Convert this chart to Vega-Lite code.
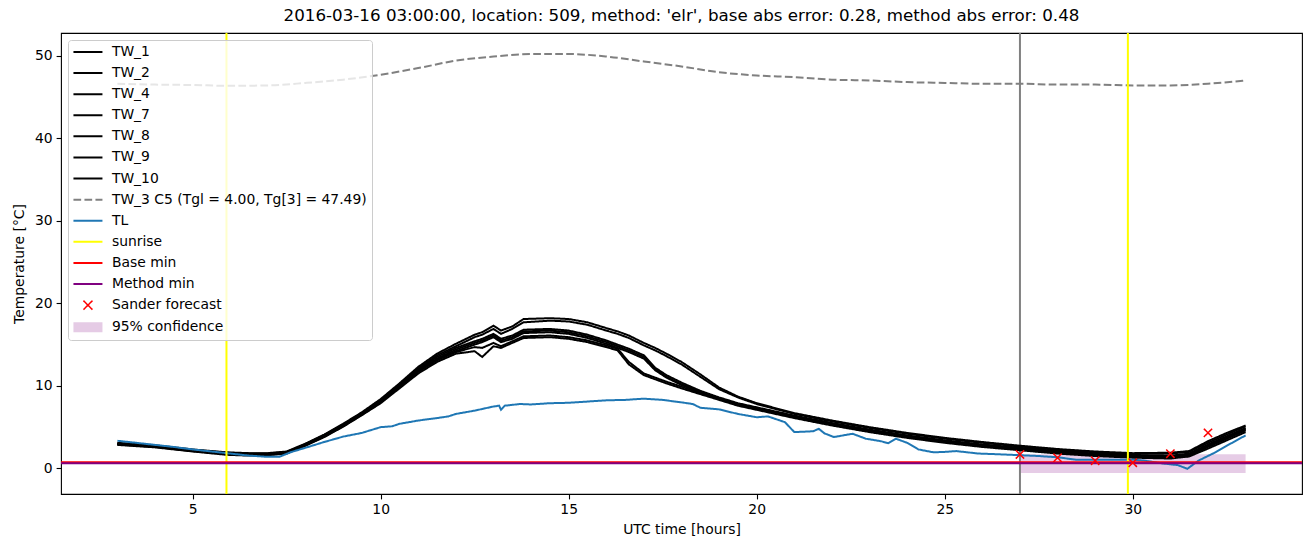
{
 "$schema": "https://vega.github.io/schema/vega-lite/v6.json",
 "width": 1241,
 "height": 461,
 "autosize": {"type": "none"},
 "padding": {"left": 61, "top": 33, "right": 8, "bottom": 53},
 "background": "white",
 "title": {"text": "2016-03-16 03:00:00, location: 509, method: 'elr', base abs error: 0.28, method abs error: 0.48", "fontSize": 16.7, "fontWeight": "normal", "font": "DejaVu Sans", "color": "#000000", "offset": 7, "anchor": "middle"},
 "config": {
  "font": "DejaVu Sans",
  "view": {"stroke": "#000000", "strokeWidth": 1.1},
  "axis": {"domain": false, "grid": false, "tickColor": "#000000", "tickSize": 4.9, "tickWidth": 1.1, "labelFontSize": 13.9, "labelColor": "#000000", "labelFont": "DejaVu Sans", "labelPadding": 4, "titleFont": "DejaVu Sans", "titleFontSize": 13.9, "titleFontWeight": "normal", "titleColor": "#000000"},
  "legend": {"orient": "top-left", "offset": 7, "padding": 5, "fillColor": "rgba(255,255,255,0.8)", "strokeColor": "#cccccc", "cornerRadius": 3, "symbolSize": 100, "symbolOffset": 8, "labelFontSize": 13.9, "labelFont": "DejaVu Sans", "labelColor": "#000000", "labelOffset": 17, "rowPadding": 6.1, "labelLimit": 500}
 },
 "datasets": {
  "tw": [
   {"series":"TW_1","t":3,"v":3.1},{"series":"TW_1","t":4,"v":2.8},{"series":"TW_1","t":5,"v":2.3},{"series":"TW_1","t":5.9,"v":1.95},{"series":"TW_1","t":6.5,"v":1.85},{"series":"TW_1","t":7,"v":1.85},{"series":"TW_1","t":7.5,"v":2.05},{"series":"TW_1","t":8,"v":3.0},{"series":"TW_1","t":8.5,"v":4.1},{"series":"TW_1","t":9,"v":5.4},{"series":"TW_1","t":9.5,"v":6.8},{"series":"TW_1","t":10,"v":8.4},{"series":"TW_1","t":10.5,"v":10.3},{"series":"TW_1","t":11,"v":12.3},{"series":"TW_1","t":11.5,"v":13.9},{"series":"TW_1","t":12,"v":15.1},{"series":"TW_1","t":12.5,"v":16.2},{"series":"TW_1","t":12.7,"v":16.5},{"series":"TW_1","t":13,"v":17.3},{"series":"TW_1","t":13.2,"v":16.7},{"series":"TW_1","t":13.5,"v":17.2},{"series":"TW_1","t":13.8,"v":18.1},{"series":"TW_1","t":14.5,"v":18.2},{"series":"TW_1","t":15,"v":18.1},{"series":"TW_1","t":15.5,"v":17.7},{"series":"TW_1","t":16,"v":17.0},{"series":"TW_1","t":16.3,"v":16.6},{"series":"TW_1","t":16.6,"v":16.1},{"series":"TW_1","t":17,"v":15.2},{"series":"TW_1","t":17.3,"v":14.6},{"series":"TW_1","t":17.6,"v":13.9},{"series":"TW_1","t":18,"v":12.9},{"series":"TW_1","t":18.5,"v":11.4},{"series":"TW_1","t":19,"v":9.8},{"series":"TW_1","t":19.5,"v":8.7},{"series":"TW_1","t":20,"v":7.9},{"series":"TW_1","t":20.5,"v":7.3},{"series":"TW_1","t":21,"v":6.7},{"series":"TW_1","t":22,"v":5.8},{"series":"TW_1","t":23,"v":5.0},{"series":"TW_1","t":24,"v":4.3},{"series":"TW_1","t":25,"v":3.7},{"series":"TW_1","t":26,"v":3.2},{"series":"TW_1","t":27,"v":2.75},{"series":"TW_1","t":28,"v":2.35},{"series":"TW_1","t":29,"v":2.05},{"series":"TW_1","t":30,"v":1.85},{"series":"TW_1","t":31,"v":1.9},{"series":"TW_1","t":31.5,"v":2.1},{"series":"TW_1","t":32,"v":3.3},{"series":"TW_1","t":32.5,"v":4.3},{"series":"TW_1","t":33,"v":5.2},
   {"series":"TW_2","t":3,"v":3.05},{"series":"TW_2","t":4,"v":2.75},{"series":"TW_2","t":5,"v":2.25},{"series":"TW_2","t":5.9,"v":1.9},{"series":"TW_2","t":6.5,"v":1.8},{"series":"TW_2","t":7,"v":1.8},{"series":"TW_2","t":7.5,"v":2.0},{"series":"TW_2","t":8,"v":2.95},{"series":"TW_2","t":8.5,"v":4.05},{"series":"TW_2","t":9,"v":5.3},{"series":"TW_2","t":9.5,"v":6.7},{"series":"TW_2","t":10,"v":8.3},{"series":"TW_2","t":10.5,"v":10.2},{"series":"TW_2","t":11,"v":12.1},{"series":"TW_2","t":11.5,"v":13.7},{"series":"TW_2","t":12,"v":14.8},{"series":"TW_2","t":12.5,"v":15.9},{"series":"TW_2","t":12.7,"v":16.2},{"series":"TW_2","t":13,"v":16.9},{"series":"TW_2","t":13.2,"v":16.3},{"series":"TW_2","t":13.5,"v":16.9},{"series":"TW_2","t":13.8,"v":17.7},{"series":"TW_2","t":14.5,"v":17.9},{"series":"TW_2","t":15,"v":17.8},{"series":"TW_2","t":15.5,"v":17.4},{"series":"TW_2","t":16,"v":16.7},{"series":"TW_2","t":16.3,"v":16.3},{"series":"TW_2","t":16.6,"v":15.8},{"series":"TW_2","t":17,"v":14.9},{"series":"TW_2","t":17.3,"v":14.3},{"series":"TW_2","t":17.6,"v":13.6},{"series":"TW_2","t":18,"v":12.6},{"series":"TW_2","t":18.5,"v":11.1},{"series":"TW_2","t":19,"v":9.6},{"series":"TW_2","t":19.5,"v":8.6},{"series":"TW_2","t":20,"v":7.8},{"series":"TW_2","t":20.5,"v":7.2},{"series":"TW_2","t":21,"v":6.6},{"series":"TW_2","t":22,"v":5.7},{"series":"TW_2","t":23,"v":4.9},{"series":"TW_2","t":24,"v":4.2},{"series":"TW_2","t":25,"v":3.6},{"series":"TW_2","t":26,"v":3.1},{"series":"TW_2","t":27,"v":2.65},{"series":"TW_2","t":28,"v":2.25},{"series":"TW_2","t":29,"v":1.95},{"series":"TW_2","t":30,"v":1.75},{"series":"TW_2","t":31,"v":1.8},{"series":"TW_2","t":31.5,"v":2.0},{"series":"TW_2","t":32,"v":3.1},{"series":"TW_2","t":32.5,"v":4.1},{"series":"TW_2","t":33,"v":5.1},
   {"series":"TW_4","t":3,"v":3.0},{"series":"TW_4","t":4,"v":2.7},{"series":"TW_4","t":5,"v":2.2},{"series":"TW_4","t":5.9,"v":1.85},{"series":"TW_4","t":6.5,"v":1.75},{"series":"TW_4","t":7,"v":1.75},{"series":"TW_4","t":7.5,"v":1.95},{"series":"TW_4","t":8,"v":2.9},{"series":"TW_4","t":8.5,"v":4.0},{"series":"TW_4","t":9,"v":5.3},{"series":"TW_4","t":9.5,"v":6.7},{"series":"TW_4","t":10,"v":8.2},{"series":"TW_4","t":10.5,"v":10.1},{"series":"TW_4","t":11,"v":12.0},{"series":"TW_4","t":11.5,"v":13.5},{"series":"TW_4","t":12,"v":14.6},{"series":"TW_4","t":12.5,"v":15.4},{"series":"TW_4","t":12.7,"v":15.7},{"series":"TW_4","t":13,"v":16.3},{"series":"TW_4","t":13.2,"v":15.7},{"series":"TW_4","t":13.5,"v":16.1},{"series":"TW_4","t":13.8,"v":16.8},{"series":"TW_4","t":14.5,"v":16.9},{"series":"TW_4","t":15,"v":16.7},{"series":"TW_4","t":15.5,"v":16.2},{"series":"TW_4","t":16,"v":15.5},{"series":"TW_4","t":16.3,"v":15.0},{"series":"TW_4","t":16.6,"v":14.5},{"series":"TW_4","t":17,"v":13.7},{"series":"TW_4","t":17.3,"v":12.2},{"series":"TW_4","t":17.6,"v":11.3},{"series":"TW_4","t":18,"v":10.4},{"series":"TW_4","t":18.5,"v":9.4},{"series":"TW_4","t":19,"v":8.6},{"series":"TW_4","t":19.5,"v":7.9},{"series":"TW_4","t":20,"v":7.4},{"series":"TW_4","t":20.5,"v":6.9},{"series":"TW_4","t":21,"v":6.4},{"series":"TW_4","t":22,"v":5.5},{"series":"TW_4","t":23,"v":4.7},{"series":"TW_4","t":24,"v":4.0},{"series":"TW_4","t":25,"v":3.4},{"series":"TW_4","t":26,"v":2.9},{"series":"TW_4","t":27,"v":2.5},{"series":"TW_4","t":28,"v":2.1},{"series":"TW_4","t":29,"v":1.8},{"series":"TW_4","t":30,"v":1.6},{"series":"TW_4","t":31,"v":1.55},{"series":"TW_4","t":31.5,"v":1.8},{"series":"TW_4","t":32,"v":2.9},{"series":"TW_4","t":32.5,"v":3.9},{"series":"TW_4","t":33,"v":4.9},
   {"series":"TW_7","t":3,"v":2.95},{"series":"TW_7","t":4,"v":2.65},{"series":"TW_7","t":5,"v":2.15},{"series":"TW_7","t":5.9,"v":1.8},{"series":"TW_7","t":6.5,"v":1.7},{"series":"TW_7","t":7,"v":1.7},{"series":"TW_7","t":7.5,"v":1.9},{"series":"TW_7","t":8,"v":2.85},{"series":"TW_7","t":8.5,"v":3.9},{"series":"TW_7","t":9,"v":5.2},{"series":"TW_7","t":9.5,"v":6.6},{"series":"TW_7","t":10,"v":8.1},{"series":"TW_7","t":10.5,"v":10.0},{"series":"TW_7","t":11,"v":11.9},{"series":"TW_7","t":11.5,"v":13.3},{"series":"TW_7","t":12,"v":14.4},{"series":"TW_7","t":12.5,"v":15.2},{"series":"TW_7","t":12.7,"v":15.5},{"series":"TW_7","t":13,"v":16.1},{"series":"TW_7","t":13.2,"v":15.5},{"series":"TW_7","t":13.5,"v":15.9},{"series":"TW_7","t":13.8,"v":16.6},{"series":"TW_7","t":14.5,"v":16.7},{"series":"TW_7","t":15,"v":16.5},{"series":"TW_7","t":15.5,"v":16.0},{"series":"TW_7","t":16,"v":15.3},{"series":"TW_7","t":16.3,"v":14.8},{"series":"TW_7","t":16.6,"v":14.3},{"series":"TW_7","t":17,"v":13.5},{"series":"TW_7","t":17.3,"v":12.0},{"series":"TW_7","t":17.6,"v":11.1},{"series":"TW_7","t":18,"v":10.2},{"series":"TW_7","t":18.5,"v":9.3},{"series":"TW_7","t":19,"v":8.5},{"series":"TW_7","t":19.5,"v":7.8},{"series":"TW_7","t":20,"v":7.3},{"series":"TW_7","t":20.5,"v":6.8},{"series":"TW_7","t":21,"v":6.3},{"series":"TW_7","t":22,"v":5.4},{"series":"TW_7","t":23,"v":4.6},{"series":"TW_7","t":24,"v":3.9},{"series":"TW_7","t":25,"v":3.3},{"series":"TW_7","t":26,"v":2.8},{"series":"TW_7","t":27,"v":2.4},{"series":"TW_7","t":28,"v":2.0},{"series":"TW_7","t":29,"v":1.7},{"series":"TW_7","t":30,"v":1.5},{"series":"TW_7","t":31,"v":1.45},{"series":"TW_7","t":31.5,"v":1.7},{"series":"TW_7","t":32,"v":2.8},{"series":"TW_7","t":32.5,"v":3.8},{"series":"TW_7","t":33,"v":4.8},
   {"series":"TW_8","t":3,"v":2.9},{"series":"TW_8","t":4,"v":2.6},{"series":"TW_8","t":5,"v":2.1},{"series":"TW_8","t":5.9,"v":1.75},{"series":"TW_8","t":6.5,"v":1.65},{"series":"TW_8","t":7,"v":1.65},{"series":"TW_8","t":7.5,"v":1.85},{"series":"TW_8","t":8,"v":2.8},{"series":"TW_8","t":8.5,"v":3.85},{"series":"TW_8","t":9,"v":5.1},{"series":"TW_8","t":9.5,"v":6.5},{"series":"TW_8","t":10,"v":8.0},{"series":"TW_8","t":10.5,"v":9.9},{"series":"TW_8","t":11,"v":11.8},{"series":"TW_8","t":11.5,"v":13.2},{"series":"TW_8","t":12,"v":14.2},{"series":"TW_8","t":12.5,"v":15.0},{"series":"TW_8","t":12.7,"v":15.3},{"series":"TW_8","t":13,"v":15.9},{"series":"TW_8","t":13.2,"v":15.3},{"series":"TW_8","t":13.5,"v":15.7},{"series":"TW_8","t":13.8,"v":16.4},{"series":"TW_8","t":14.5,"v":16.5},{"series":"TW_8","t":15,"v":16.3},{"series":"TW_8","t":15.5,"v":15.8},{"series":"TW_8","t":16,"v":15.1},{"series":"TW_8","t":16.3,"v":14.6},{"series":"TW_8","t":16.6,"v":14.1},{"series":"TW_8","t":17,"v":13.3},{"series":"TW_8","t":17.3,"v":11.9},{"series":"TW_8","t":17.6,"v":11.0},{"series":"TW_8","t":18,"v":10.1},{"series":"TW_8","t":18.5,"v":9.2},{"series":"TW_8","t":19,"v":8.4},{"series":"TW_8","t":19.5,"v":7.7},{"series":"TW_8","t":20,"v":7.2},{"series":"TW_8","t":20.5,"v":6.7},{"series":"TW_8","t":21,"v":6.2},{"series":"TW_8","t":22,"v":5.3},{"series":"TW_8","t":23,"v":4.5},{"series":"TW_8","t":24,"v":3.8},{"series":"TW_8","t":25,"v":3.2},{"series":"TW_8","t":26,"v":2.7},{"series":"TW_8","t":27,"v":2.3},{"series":"TW_8","t":28,"v":1.9},{"series":"TW_8","t":29,"v":1.6},{"series":"TW_8","t":30,"v":1.4},{"series":"TW_8","t":31,"v":1.35},{"series":"TW_8","t":31.5,"v":1.6},{"series":"TW_8","t":32,"v":2.7},{"series":"TW_8","t":32.5,"v":3.7},{"series":"TW_8","t":33,"v":4.7},
   {"series":"TW_9","t":3,"v":2.95},{"series":"TW_9","t":4,"v":2.65},{"series":"TW_9","t":5,"v":2.15},{"series":"TW_9","t":5.9,"v":1.75},{"series":"TW_9","t":6.5,"v":1.65},{"series":"TW_9","t":7,"v":1.7},{"series":"TW_9","t":7.5,"v":1.9},{"series":"TW_9","t":8,"v":2.85},{"series":"TW_9","t":8.5,"v":3.9},{"series":"TW_9","t":9,"v":5.15},{"series":"TW_9","t":9.5,"v":6.55},{"series":"TW_9","t":10,"v":8.05},{"series":"TW_9","t":10.5,"v":9.9},{"series":"TW_9","t":11,"v":11.7},{"series":"TW_9","t":11.5,"v":13.1},{"series":"TW_9","t":12,"v":14.1},{"series":"TW_9","t":12.5,"v":14.7},{"series":"TW_9","t":12.7,"v":14.6},{"series":"TW_9","t":13,"v":15.2},{"series":"TW_9","t":13.2,"v":14.8},{"series":"TW_9","t":13.5,"v":15.4},{"series":"TW_9","t":13.8,"v":16.0},{"series":"TW_9","t":14.5,"v":16.1},{"series":"TW_9","t":15,"v":15.9},{"series":"TW_9","t":15.5,"v":15.5},{"series":"TW_9","t":16,"v":14.9},{"series":"TW_9","t":16.3,"v":14.5},{"series":"TW_9","t":16.6,"v":12.9},{"series":"TW_9","t":17,"v":11.5},{"series":"TW_9","t":17.3,"v":11.0},{"series":"TW_9","t":17.6,"v":10.5},{"series":"TW_9","t":18,"v":9.9},{"series":"TW_9","t":18.5,"v":9.1},{"series":"TW_9","t":19,"v":8.4},{"series":"TW_9","t":19.5,"v":7.7},{"series":"TW_9","t":20,"v":7.2},{"series":"TW_9","t":20.5,"v":6.7},{"series":"TW_9","t":21,"v":6.2},{"series":"TW_9","t":22,"v":5.3},{"series":"TW_9","t":23,"v":4.5},{"series":"TW_9","t":24,"v":3.8},{"series":"TW_9","t":25,"v":3.2},{"series":"TW_9","t":26,"v":2.7},{"series":"TW_9","t":27,"v":2.3},{"series":"TW_9","t":28,"v":1.9},{"series":"TW_9","t":29,"v":1.6},{"series":"TW_9","t":30,"v":1.4},{"series":"TW_9","t":31,"v":1.3},{"series":"TW_9","t":31.5,"v":1.5},{"series":"TW_9","t":32,"v":2.6},{"series":"TW_9","t":32.5,"v":3.6},{"series":"TW_9","t":33,"v":4.6},
   {"series":"TW_10","t":3,"v":2.85},{"series":"TW_10","t":4,"v":2.55},{"series":"TW_10","t":5,"v":2.05},{"series":"TW_10","t":5.9,"v":1.65},{"series":"TW_10","t":6.5,"v":1.55},{"series":"TW_10","t":7,"v":1.6},{"series":"TW_10","t":7.5,"v":1.8},{"series":"TW_10","t":8,"v":2.75},{"series":"TW_10","t":8.5,"v":3.8},{"series":"TW_10","t":9,"v":5.05},{"series":"TW_10","t":9.5,"v":6.45},{"series":"TW_10","t":10,"v":7.9},{"series":"TW_10","t":10.5,"v":9.7},{"series":"TW_10","t":11,"v":11.5},{"series":"TW_10","t":11.5,"v":12.9},{"series":"TW_10","t":12,"v":13.9},{"series":"TW_10","t":12.5,"v":14.2},{"series":"TW_10","t":12.7,"v":13.5},{"series":"TW_10","t":13,"v":14.8},{"series":"TW_10","t":13.2,"v":14.6},{"series":"TW_10","t":13.5,"v":15.2},{"series":"TW_10","t":13.8,"v":15.8},{"series":"TW_10","t":14.5,"v":15.9},{"series":"TW_10","t":15,"v":15.7},{"series":"TW_10","t":15.5,"v":15.3},{"series":"TW_10","t":16,"v":14.7},{"series":"TW_10","t":16.3,"v":14.3},{"series":"TW_10","t":16.6,"v":12.6},{"series":"TW_10","t":17,"v":11.3},{"series":"TW_10","t":17.3,"v":10.8},{"series":"TW_10","t":17.6,"v":10.3},{"series":"TW_10","t":18,"v":9.7},{"series":"TW_10","t":18.5,"v":9.0},{"series":"TW_10","t":19,"v":8.3},{"series":"TW_10","t":19.5,"v":7.6},{"series":"TW_10","t":20,"v":7.1},{"series":"TW_10","t":20.5,"v":6.6},{"series":"TW_10","t":21,"v":6.1},{"series":"TW_10","t":22,"v":5.2},{"series":"TW_10","t":23,"v":4.4},{"series":"TW_10","t":24,"v":3.7},{"series":"TW_10","t":25,"v":3.1},{"series":"TW_10","t":26,"v":2.6},{"series":"TW_10","t":27,"v":2.2},{"series":"TW_10","t":28,"v":1.8},{"series":"TW_10","t":29,"v":1.5},{"series":"TW_10","t":30,"v":1.3},{"series":"TW_10","t":31,"v":1.2},{"series":"TW_10","t":31.5,"v":1.45},{"series":"TW_10","t":32,"v":2.4},{"series":"TW_10","t":32.5,"v":3.4},{"series":"TW_10","t":33,"v":4.4}
  ],
  "tw3": [
   {"series":"TW_3 C5 (Tgl = 4.00, Tg[3] = 47.49)","t":3,"v":46.6},{"series":"TW_3 C5 (Tgl = 4.00, Tg[3] = 47.49)","t":4,"v":46.5},{"series":"TW_3 C5 (Tgl = 4.00, Tg[3] = 47.49)","t":5,"v":46.45},{"series":"TW_3 C5 (Tgl = 4.00, Tg[3] = 47.49)","t":6,"v":46.35},{"series":"TW_3 C5 (Tgl = 4.00, Tg[3] = 47.49)","t":7,"v":46.4},{"series":"TW_3 C5 (Tgl = 4.00, Tg[3] = 47.49)","t":8,"v":46.7},{"series":"TW_3 C5 (Tgl = 4.00, Tg[3] = 47.49)","t":9,"v":47.1},{"series":"TW_3 C5 (Tgl = 4.00, Tg[3] = 47.49)","t":10,"v":47.7},{"series":"TW_3 C5 (Tgl = 4.00, Tg[3] = 47.49)","t":11,"v":48.5},{"series":"TW_3 C5 (Tgl = 4.00, Tg[3] = 47.49)","t":12,"v":49.4},{"series":"TW_3 C5 (Tgl = 4.00, Tg[3] = 47.49)","t":13,"v":49.9},{"series":"TW_3 C5 (Tgl = 4.00, Tg[3] = 47.49)","t":14,"v":50.2},{"series":"TW_3 C5 (Tgl = 4.00, Tg[3] = 47.49)","t":15,"v":50.2},{"series":"TW_3 C5 (Tgl = 4.00, Tg[3] = 47.49)","t":16,"v":49.9},{"series":"TW_3 C5 (Tgl = 4.00, Tg[3] = 47.49)","t":17,"v":49.3},{"series":"TW_3 C5 (Tgl = 4.00, Tg[3] = 47.49)","t":18,"v":48.7},{"series":"TW_3 C5 (Tgl = 4.00, Tg[3] = 47.49)","t":19,"v":48.0},{"series":"TW_3 C5 (Tgl = 4.00, Tg[3] = 47.49)","t":20,"v":47.6},{"series":"TW_3 C5 (Tgl = 4.00, Tg[3] = 47.49)","t":21,"v":47.4},{"series":"TW_3 C5 (Tgl = 4.00, Tg[3] = 47.49)","t":22,"v":47.1},{"series":"TW_3 C5 (Tgl = 4.00, Tg[3] = 47.49)","t":23,"v":47.0},{"series":"TW_3 C5 (Tgl = 4.00, Tg[3] = 47.49)","t":24,"v":46.8},{"series":"TW_3 C5 (Tgl = 4.00, Tg[3] = 47.49)","t":25,"v":46.7},{"series":"TW_3 C5 (Tgl = 4.00, Tg[3] = 47.49)","t":26,"v":46.6},{"series":"TW_3 C5 (Tgl = 4.00, Tg[3] = 47.49)","t":27,"v":46.6},{"series":"TW_3 C5 (Tgl = 4.00, Tg[3] = 47.49)","t":28,"v":46.5},{"series":"TW_3 C5 (Tgl = 4.00, Tg[3] = 47.49)","t":29,"v":46.5},{"series":"TW_3 C5 (Tgl = 4.00, Tg[3] = 47.49)","t":30,"v":46.4},{"series":"TW_3 C5 (Tgl = 4.00, Tg[3] = 47.49)","t":31,"v":46.4},{"series":"TW_3 C5 (Tgl = 4.00, Tg[3] = 47.49)","t":32,"v":46.6},{"series":"TW_3 C5 (Tgl = 4.00, Tg[3] = 47.49)","t":33,"v":47.0}
  ],
  "tl": [
   {"series":"TL","t":3,"v":3.35},{"series":"TL","t":3.5,"v":3.1},{"series":"TL","t":4,"v":2.85},{"series":"TL","t":4.5,"v":2.6},{"series":"TL","t":5,"v":2.3},{"series":"TL","t":5.5,"v":2.05},{"series":"TL","t":6,"v":1.8},{"series":"TL","t":6.5,"v":1.55},{"series":"TL","t":7,"v":1.4},{"series":"TL","t":7.3,"v":1.4},{"series":"TL","t":7.6,"v":1.95},{"series":"TL","t":8,"v":2.5},{"series":"TL","t":8.5,"v":3.2},{"series":"TL","t":9,"v":3.85},{"series":"TL","t":9.5,"v":4.3},{"series":"TL","t":10,"v":5.0},{"series":"TL","t":10.3,"v":5.1},{"series":"TL","t":10.5,"v":5.4},{"series":"TL","t":11,"v":5.8},{"series":"TL","t":11.5,"v":6.1},{"series":"TL","t":11.8,"v":6.3},{"series":"TL","t":12,"v":6.6},{"series":"TL","t":12.5,"v":7.0},{"series":"TL","t":13,"v":7.5},{"series":"TL","t":13.15,"v":7.6},{"series":"TL","t":13.2,"v":7.1},{"series":"TL","t":13.3,"v":7.6},{"series":"TL","t":13.7,"v":7.8},{"series":"TL","t":14,"v":7.75},{"series":"TL","t":14.5,"v":7.9},{"series":"TL","t":15,"v":7.95},{"series":"TL","t":15.5,"v":8.1},{"series":"TL","t":16,"v":8.25},{"series":"TL","t":16.5,"v":8.3},{"series":"TL","t":17,"v":8.45},{"series":"TL","t":17.5,"v":8.3},{"series":"TL","t":18,"v":8.0},{"series":"TL","t":18.3,"v":7.8},{"series":"TL","t":18.5,"v":7.35},{"series":"TL","t":19,"v":7.15},{"series":"TL","t":19.5,"v":6.6},{"series":"TL","t":20,"v":6.2},{"series":"TL","t":20.3,"v":6.3},{"series":"TL","t":20.75,"v":5.6},{"series":"TL","t":21,"v":4.4},{"series":"TL","t":21.5,"v":4.5},{"series":"TL","t":21.65,"v":4.8},{"series":"TL","t":21.8,"v":4.25},{"series":"TL","t":22.05,"v":3.8},{"series":"TL","t":22.55,"v":4.2},{"series":"TL","t":22.9,"v":3.6},{"series":"TL","t":23.3,"v":3.3},{"series":"TL","t":23.5,"v":3.05},{"series":"TL","t":23.7,"v":3.6},{"series":"TL","t":24,"v":3.1},{"series":"TL","t":24.3,"v":2.3},{"series":"TL","t":24.7,"v":1.95},{"series":"TL","t":25,"v":2.0},{"series":"TL","t":25.3,"v":2.1},{"series":"TL","t":25.9,"v":1.8},{"series":"TL","t":26.5,"v":1.7},{"series":"TL","t":27,"v":1.6},{"series":"TL","t":27.5,"v":1.5},{"series":"TL","t":28,"v":1.35},{"series":"TL","t":28.5,"v":1.05},{"series":"TL","t":29,"v":1.05},{"series":"TL","t":29.5,"v":1.05},{"series":"TL","t":30,"v":1.05},{"series":"TL","t":30.3,"v":0.95},{"series":"TL","t":30.8,"v":0.6},{"series":"TL","t":31.2,"v":0.4},{"series":"TL","t":31.45,"v":-0.05},{"series":"TL","t":31.75,"v":0.95},{"series":"TL","t":32.2,"v":1.95},{"series":"TL","t":32.6,"v":3.0},{"series":"TL","t":33,"v":4.0}
  ],
  "sunrise": [{"series":"sunrise","t":5.9},{"series":"sunrise","t":29.87}],
  "now": [{"t":27}],
  "mins": [{"series":"Base min","v":0.76},{"series":"Method min","v":0.64}],
  "sander": [{"series":"Sander forecast","t":27,"v":1.69},{"series":"Sander forecast","t":28,"v":1.29},{"series":"Sander forecast","t":29,"v":0.93},{"series":"Sander forecast","t":30,"v":0.69},{"series":"Sander forecast","t":31,"v":1.78},{"series":"Sander forecast","t":32,"v":4.31}],
  "band": [{"series":"95% confidence","t":27,"t2":33,"v":-0.55,"v2":1.72}]
 },
 "layer": [
  {
   "data": {"name": "band"},
   "mark": {"type": "rect"},
   "encoding": {
    "x": {"field": "t", "type": "quantitative", "scale": {"domain": [1.5, 34.5], "nice": false, "zero": false}, "axis": {"title": "UTC time [hours]", "values": [5, 10, 15, 20, 25, 30], "titlePadding": 6}},
    "x2": {"field": "t2"},
    "y": {"field": "v", "type": "quantitative", "scale": {"domain": [-3.1, 52.75], "nice": false, "zero": false}, "axis": {"title": "Temperature [°C]", "values": [0, 10, 20, 30, 40, 50], "titlePadding": 8}},
    "y2": {"field": "v2"},
    "color": {
     "field": "series", "type": "nominal",
     "scale": {
      "domain": ["TW_1","TW_2","TW_4","TW_7","TW_8","TW_9","TW_10","TW_3 C5 (Tgl = 4.00, Tg[3] = 47.49)","TL","sunrise","Base min","Method min","Sander forecast","95% confidence"],
      "range": ["#000000","#000000","#000000","#000000","#000000","#000000","#000000","#808080","#1f77b4","#ffff00","#ff0000","#800080","#ff0000","#800080"]
     },
     "legend": {"title": null}
    },
    "opacity": {
     "field": "series", "type": "nominal",
     "scale": {
      "type": "ordinal",
      "domain": ["TW_1","TW_2","TW_4","TW_7","TW_8","TW_9","TW_10","TW_3 C5 (Tgl = 4.00, Tg[3] = 47.49)","TL","sunrise","Base min","Method min","Sander forecast","95% confidence"],
      "range": [1,1,1,1,1,1,1,1,1,1,1,1,1,0.2]
     },
     "legend": {"title": null}
    }
   }
  },
  {
   "data": {"name": "now"},
   "mark": {"type": "rule", "color": "#808080", "strokeWidth": 2},
   "encoding": {
    "x": {"field": "t", "type": "quantitative", "scale": {"domain": [1.5, 34.5], "nice": false, "zero": false}, "axis": {"title": "UTC time [hours]", "values": [5, 10, 15, 20, 25, 30], "titlePadding": 6}}
   }
  },
  {
   "encoding": {
    "color": {
     "field": "series", "type": "nominal",
     "scale": {
      "domain": ["TW_1","TW_2","TW_4","TW_7","TW_8","TW_9","TW_10","TW_3 C5 (Tgl = 4.00, Tg[3] = 47.49)","TL","sunrise","Base min","Method min","Sander forecast","95% confidence"],
      "range": ["#000000","#000000","#000000","#000000","#000000","#000000","#000000","#808080","#1f77b4","#ffff00","#ff0000","#800080","#ff0000","#800080"]
     },
     "legend": {"title": null}
    },
    "strokeDash": {
     "field": "series", "type": "nominal",
     "scale": {
      "type": "ordinal",
      "domain": ["TW_1","TW_2","TW_4","TW_7","TW_8","TW_9","TW_10","TW_3 C5 (Tgl = 4.00, Tg[3] = 47.49)","TL","sunrise","Base min","Method min","Sander forecast","95% confidence"],
      "range": [[1,0],[1,0],[1,0],[1,0],[1,0],[1,0],[1,0],[7.7,3.3],[1,0],[1,0],[1,0],[1,0],[1,0],[1,0]]
     },
     "legend": {"title": null}
    },
    "shape": {
     "field": "series", "type": "nominal",
     "scale": {
      "domain": ["TW_1","TW_2","TW_4","TW_7","TW_8","TW_9","TW_10","TW_3 C5 (Tgl = 4.00, Tg[3] = 47.49)","TL","sunrise","Base min","Method min","Sander forecast","95% confidence"],
      "range": ["M-2.9,0H2.9","M-2.9,0H2.9","M-2.9,0H2.9","M-2.9,0H2.9","M-2.9,0H2.9","M-2.9,0H2.9","M-2.9,0H2.9","M-2.9,0H2.9","M-2.9,0H2.9","M-2.9,0H2.9","M-2.9,0H2.9","M-2.9,0H2.9","M-0.9,-0.9L0.9,0.9M-0.9,0.9L0.9,-0.9","M-2.9,-1H2.9V1H-2.9Z"]
     },
     "legend": {"title": null}
    },
    "strokeWidth": {
     "field": "series", "type": "nominal",
     "scale": {
      "type": "ordinal",
      "domain": ["TW_1","TW_2","TW_4","TW_7","TW_8","TW_9","TW_10","TW_3 C5 (Tgl = 4.00, Tg[3] = 47.49)","TL","sunrise","Base min","Method min","Sander forecast","95% confidence"],
      "range": [2,2,2,2,2,2,2,2,2,2,2,2,1.5,0.01]
     },
     "legend": {"title": null}
    },
    "opacity": {
     "field": "series", "type": "nominal",
     "scale": {
      "type": "ordinal",
      "domain": ["TW_1","TW_2","TW_4","TW_7","TW_8","TW_9","TW_10","TW_3 C5 (Tgl = 4.00, Tg[3] = 47.49)","TL","sunrise","Base min","Method min","Sander forecast","95% confidence"],
      "range": [1,1,1,1,1,1,1,1,1,1,1,1,1,0.2]
     },
     "legend": {"title": null}
    }
   },
   "layer": [
    {
     "data": {"name": "tw"},
     "mark": {"type": "line"},
     "encoding": {
      "x": {"field": "t", "type": "quantitative", "scale": {"domain": [1.5, 34.5], "nice": false, "zero": false}, "axis": {"title": "UTC time [hours]", "values": [5, 10, 15, 20, 25, 30], "titlePadding": 6}},
      "y": {"field": "v", "type": "quantitative", "scale": {"domain": [-3.1, 52.75], "nice": false, "zero": false}, "axis": {"title": "Temperature [°C]", "values": [0, 10, 20, 30, 40, 50], "titlePadding": 8}}
     }
    },
    {
     "data": {"name": "tw3"},
     "mark": {"type": "line", "interpolate": "monotone"},
     "encoding": {
      "x": {"field": "t", "type": "quantitative", "scale": {"domain": [1.5, 34.5], "nice": false, "zero": false}, "axis": {"title": "UTC time [hours]", "values": [5, 10, 15, 20, 25, 30], "titlePadding": 6}},
      "y": {"field": "v", "type": "quantitative", "scale": {"domain": [-3.1, 52.75], "nice": false, "zero": false}, "axis": {"title": "Temperature [°C]", "values": [0, 10, 20, 30, 40, 50], "titlePadding": 8}}
     }
    },
    {
     "data": {"name": "tl"},
     "mark": {"type": "line"},
     "encoding": {
      "x": {"field": "t", "type": "quantitative", "scale": {"domain": [1.5, 34.5], "nice": false, "zero": false}, "axis": {"title": "UTC time [hours]", "values": [5, 10, 15, 20, 25, 30], "titlePadding": 6}},
      "y": {"field": "v", "type": "quantitative", "scale": {"domain": [-3.1, 52.75], "nice": false, "zero": false}, "axis": {"title": "Temperature [°C]", "values": [0, 10, 20, 30, 40, 50], "titlePadding": 8}}
     }
    },
    {
     "data": {"name": "sunrise"},
     "mark": {"type": "rule"},
     "encoding": {
      "x": {"field": "t", "type": "quantitative", "scale": {"domain": [1.5, 34.5], "nice": false, "zero": false}, "axis": {"title": "UTC time [hours]", "values": [5, 10, 15, 20, 25, 30], "titlePadding": 6}}
     }
    },
    {
     "data": {"name": "mins"},
     "mark": {"type": "rule"},
     "encoding": {
      "y": {"field": "v", "type": "quantitative", "scale": {"domain": [-3.1, 52.75], "nice": false, "zero": false}, "axis": {"title": "Temperature [°C]", "values": [0, 10, 20, 30, 40, 50], "titlePadding": 8}}
     }
    },
    {
     "data": {"name": "sander"},
     "mark": {"type": "point", "size": 85, "filled": false},
     "encoding": {
      "x": {"field": "t", "type": "quantitative", "scale": {"domain": [1.5, 34.5], "nice": false, "zero": false}, "axis": {"title": "UTC time [hours]", "values": [5, 10, 15, 20, 25, 30], "titlePadding": 6}},
      "y": {"field": "v", "type": "quantitative", "scale": {"domain": [-3.1, 52.75], "nice": false, "zero": false}, "axis": {"title": "Temperature [°C]", "values": [0, 10, 20, 30, 40, 50], "titlePadding": 8}}
     }
    }
   ]
  }
 ]
}
